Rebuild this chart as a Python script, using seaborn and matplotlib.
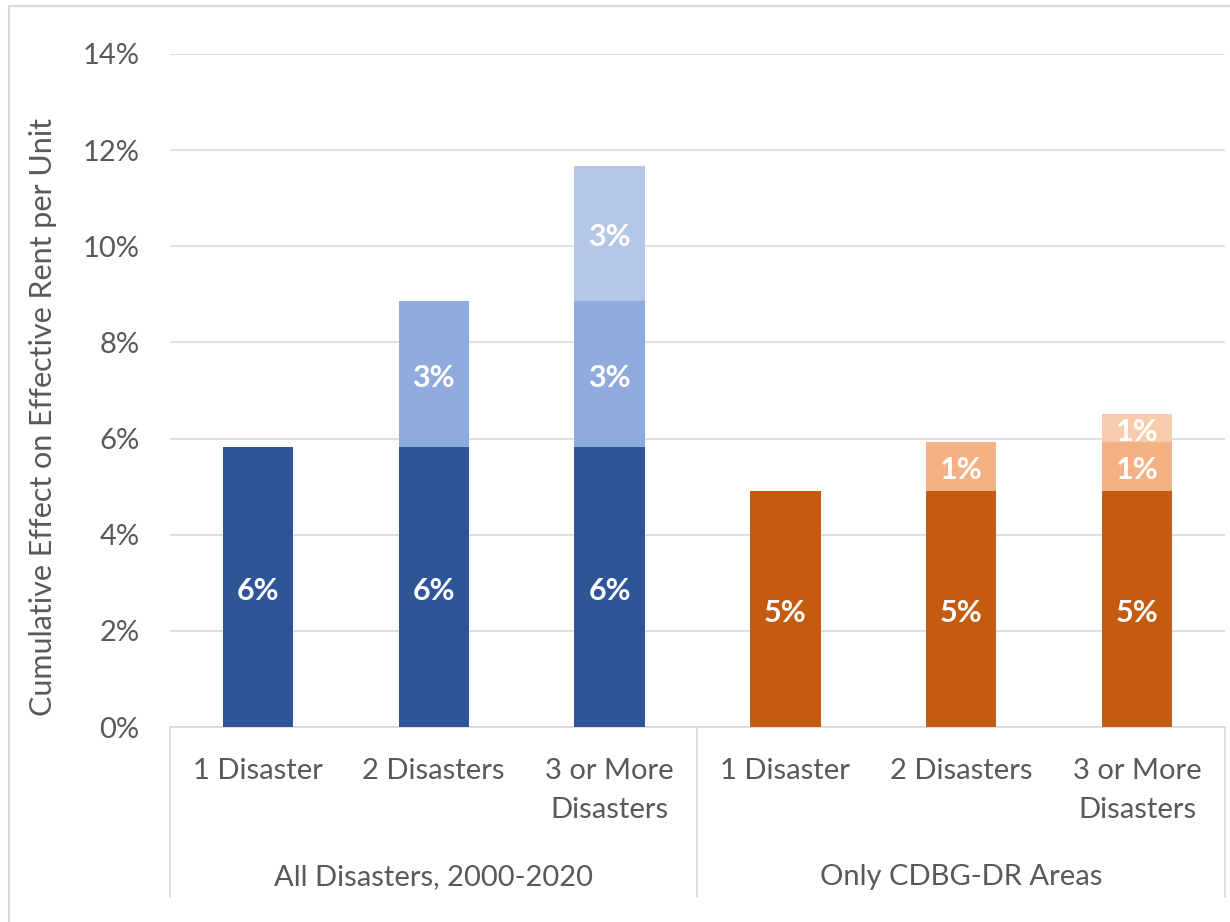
import matplotlib
matplotlib.use("Agg")
import matplotlib.pyplot as plt
import numpy as np
import pandas as pd
import seaborn as sns
from matplotlib.patches import Rectangle

sns.set_style("white")
plt.rcParams["font.family"] = ["Lato", "DejaVu Sans"]

# data (percent)
groups = ["All Disasters, 2000-2020", "Only CDBG-DR Areas"]
bar_labels = ["1 Disaster", "2 Disasters", "3 or More\nDisasters"]
first_all = [5.83, 5.83, 5.83]
second_all = [0.0, 3.03, 3.03]
third_all = [0.0, 0.0, 2.81]
first_cdbg = [4.91, 4.91, 4.91]
second_cdbg = [0.0, 1.02, 1.02]
third_cdbg = [0.0, 0.0, 0.58]
yticks = [0, 2, 4, 6, 8, 10, 12, 14]

blues = ["#2F5597", "#8FAADC", "#B4C7E7"]
oranges = ["#C55A11", "#F4B183", "#F8CBAD"]
grey_text = "#595959"
grid_col = "#D9D9D9"

slots = [f"{g}|{b}" for g in groups for b in bar_labels]
layers = {
    0: first_all + first_cdbg,
    1: second_all + second_cdbg,
    2: third_all + third_cdbg,
}
rows = []
for i, s in enumerate(slots):
    bottom = 0.0
    for k in range(3):
        v = layers[k][i]
        rows.append({"slot": s, "group": s.split("|")[0], "layer": k,
                     "value": v, "bottom": bottom, "top": bottom + v})
        bottom += v
df = pd.DataFrame(rows)

fig = plt.figure(figsize=(12.3, 9.22), dpi=100)
ax = fig.add_axes([170 / 1230, 1 - 727 / 922, 1055 / 1230, 673 / 922])

# draw cumulative tops, highest layer first so lower layers overlay
for k in [2, 1, 0]:
    sub = df[df["layer"] == k]
    pal = {groups[0]: blues[k], groups[1]: oranges[k]}
    sns.barplot(data=sub, x="slot", y="top", hue="group", order=slots,
                palette=pal, dodge=False, width=0.4, legend=False,
                saturation=1, linewidth=0, ax=ax, zorder=3)

# segment labels
for _, r in df.iterrows():
    if r["value"] > 0:
        x = slots.index(r["slot"])
        ax.text(x, r["bottom"] + r["value"] / 2 - 0.08,
                f"{round(r['value']):.0f}%",
                ha="center", va="center", color="white", fontsize=22,
                fontweight="bold", zorder=5)

ax.set_ylim(0, 14)
ax.set_xlim(-0.5, 5.5)
ax.set_yticks(yticks)
ax.set_yticklabels([f"{t}%" for t in yticks], color=grey_text, fontsize=21)
ax.set_xticks(range(6))
ax.set_xticklabels(bar_labels * 2, color=grey_text, fontsize=21,
                   linespacing=1.65)
ax.tick_params(axis="x", length=0, pad=22)
ax.tick_params(axis="y", length=0, pad=22)
ax.yaxis.grid(True, color=grid_col, linewidth=1.2, zorder=0)
ax.set_axisbelow(True)
for side in ["top", "right", "left"]:
    ax.spines[side].set_visible(False)
ax.spines["bottom"].set_color(grid_col)
ax.spines["bottom"].set_linewidth(1.2)
ax.set_xlabel("")
ax.set_ylabel("Cumulative Effect on Effective Rent per Unit",
              color=grey_text, fontsize=22)
ax.yaxis.set_label_coords(-0.107, 0.46)

# group labels and separators under the axis
trans = ax.get_xaxis_transform()
for gi, g in enumerate(groups):
    ax.text(gi * 3 + 1, -0.223, g, transform=trans, ha="center", va="center",
            color=grey_text, fontsize=21)
for xs in [-0.5, 2.5, 5.5]:
    ax.plot([xs, xs], [0, -0.253], transform=trans, color=grid_col,
            linewidth=1.2, clip_on=False)

# light frame around the chart area
fig.add_artist(Rectangle((9 / 1230, -0.2), 1.2, 0.2 + 1 - 6 / 922,
                         transform=fig.transFigure, fill=False,
                         edgecolor=grid_col, linewidth=1.5))

fig.savefig("out.png", dpi=100)
